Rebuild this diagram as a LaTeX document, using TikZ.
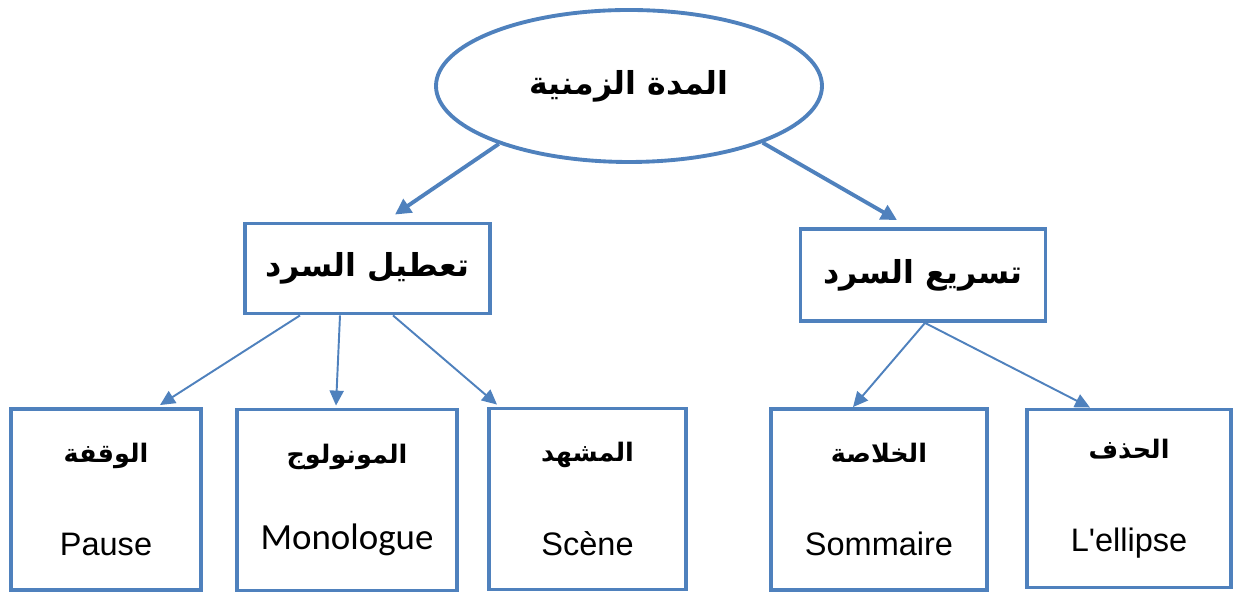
\documentclass[tikz,border=0pt]{standalone}
\usepackage{fontspec}
\setmainfont{Liberation Sans}[Ligatures=TeXOff]
\newfontfamily\arabicfont[Script=Arabic]{DejaVu Sans}
\newfontfamily\calibrifont{Carlito}
\TeXXeTstate=1
\usetikzlibrary{positioning, arrows.meta, shapes.geometric, calc}
\definecolor{boxblue}{RGB}{79,129,189}

\begin{document}
\begin{tikzpicture}[
    topnode/.style={ellipse, draw=boxblue, line width=2.2pt, minimum width=7.72cm, minimum height=3.04cm, inner sep=0pt},
    midbox/.style={rectangle, draw=boxblue, line width=2.2pt, minimum width=4.9cm, minimum height=1.8cm},
    leafbox/.style={rectangle, draw=boxblue, line width=2.2pt, minimum height=3.62cm, align=center, font=\fontsize{18.5}{21}\selectfont},
    bigarrow/.style={-{Triangle[length=9pt, width=9pt]}, boxblue, line width=2.2pt},
    smallarrow/.style={-{Triangle[length=8.5pt, width=8pt]}, boxblue, line width=1.1pt},
    artitle/.style={font=\arabicfont\bfseries\fontsize{18}{21}\selectfont}
]

\useasboundingbox (0, 0) rectangle (24.7, 11.9);

% Top ellipse
\node[topnode, artitle] (dur) at (12.58, 10.18) {\beginR المدة الزمنية\endR};

% Second level
\node[midbox, artitle] (slow) at (7.35, 6.53) {\beginR تعطيل السرد\endR};
\node[midbox, artitle, minimum height=1.84cm] (fast) at (18.46, 6.40) {\beginR تسريع السرد\endR};

% Leaves
\node[leafbox, minimum width=3.8cm] (pause) at (2.12, 1.91)
    {{\arabicfont\bfseries\fontsize{14.5}{17}\selectfont\beginR الوقفة\endR}\\[32pt] Pause};
\node[leafbox, minimum width=4.4cm] (mono) at (6.94, 1.90)
    {{\arabicfont\bfseries\fontsize{14.5}{17}\selectfont\beginR المونولوج\endR}\\[28pt] {\calibrifont\fontsize{21}{24}\selectfont Monologue}};
\node[leafbox, minimum width=3.95cm] (scene) at (11.75, 1.92)
    {{\arabicfont\bfseries\fontsize{14.5}{17}\selectfont\beginR المشهد\endR}\\[32pt] Scène};
\node[leafbox, minimum width=4.32cm] (somm) at (17.58, 1.91)
    {{\arabicfont\bfseries\fontsize{14.5}{17}\selectfont\beginR الخلاصة\endR}\\[32pt] Sommaire};
\node[leafbox, minimum width=4.08cm, minimum height=3.56cm] (ellip) at (22.58, 1.93)
    {{\arabicfont\bfseries\fontsize{14.5}{17}\selectfont\beginR الحذف\endR}\\[32pt] L'ellipse};

% Top arrows
\draw[bigarrow] (dur.204) -- ([xshift=0.55cm, yshift=0.14cm]slow.north);
\draw[bigarrow] (dur.337) -- ([xshift=-0.52cm, yshift=0.14cm]fast.north);

% Lower arrows
\draw[smallarrow] ([xshift=-1.35cm]slow.south) -- ([xshift=1.08cm, yshift=0.04cm]pause.north);
\draw[smallarrow] ([xshift=-0.55cm]slow.south) -- ([xshift=-0.22cm, yshift=0.04cm]mono.north);
\draw[smallarrow] ([xshift=0.51cm]slow.south) -- ([xshift=-1.81cm, yshift=0.04cm]scene.north);
\draw[smallarrow] ([xshift=0.04cm]fast.south) -- ([xshift=-0.52cm]somm.north);
\draw[smallarrow] ([xshift=0.04cm]fast.south) -- ([xshift=-0.78cm]ellip.north);

\end{tikzpicture}
\end{document}
